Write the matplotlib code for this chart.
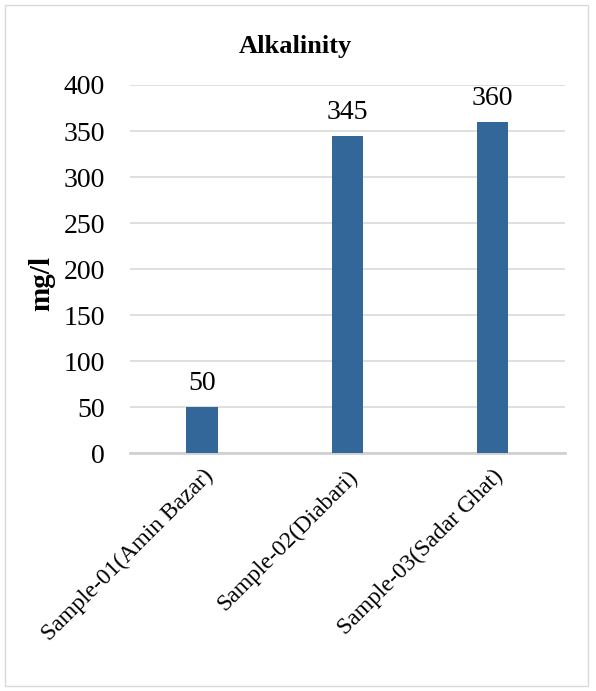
import matplotlib
matplotlib.use('Agg')
import matplotlib.pyplot as plt
from matplotlib.patches import Rectangle

samples = ['Sample-01(Amin Bazar)', 'Sample-02(Diabari)', 'Sample-03(Sadar Ghat)']
alkalinity = [50, 345, 360]
yticks = [0, 50, 100, 150, 200, 250, 300, 350, 400]

plt.rcParams['font.family'] = ['Liberation Serif', 'DejaVu Serif']

fig = plt.figure(figsize=(5.96, 6.91), dpi=100)
ax = fig.add_axes([0.218, 0.344, 0.730, 0.533])

x = list(range(len(samples)))
bars = ax.bar(x, alkalinity, width=0.22, color='#336699', zorder=3)
for xi, v in zip(x, alkalinity):
    ax.text(xi, v + 12, str(v), ha='center', va='bottom', fontsize=20)

ax.set_xlim(-0.5, 2.5)
ax.set_ylim(0, 400)
ax.set_yticks(yticks)
ax.set_yticklabels([str(t) for t in yticks], fontsize=20)
ax.set_xticks(x)
ax.set_xticklabels(samples, rotation=45, ha='right', rotation_mode='anchor', fontsize=17)
ax.tick_params(axis='both', length=0)
ax.tick_params(axis='y', pad=18)
ax.tick_params(axis='x', pad=9)
ax.grid(axis='y', color='#d9d9d9', linewidth=1.2, zorder=0)
for s in ['top', 'right', 'left']:
    ax.spines[s].set_visible(False)
ax.spines['bottom'].set_color('#d0d0d0')
ax.spines['bottom'].set_linewidth(2)
ax.set_ylabel('mg/l', fontsize=21, fontweight='bold')
ax.yaxis.set_label_coords(-0.172, 0.46)
fig.text(0.495, 1 - 47 / 691, 'Alkalinity', fontsize=19, fontweight='bold', ha='center', va='center')

fig.patches.append(Rectangle((5/596, 5/691), 583/596, 681/691, transform=fig.transFigure,
                             fill=False, edgecolor='#d9d9d9', linewidth=1))

fig.savefig('out.png', dpi=100)
